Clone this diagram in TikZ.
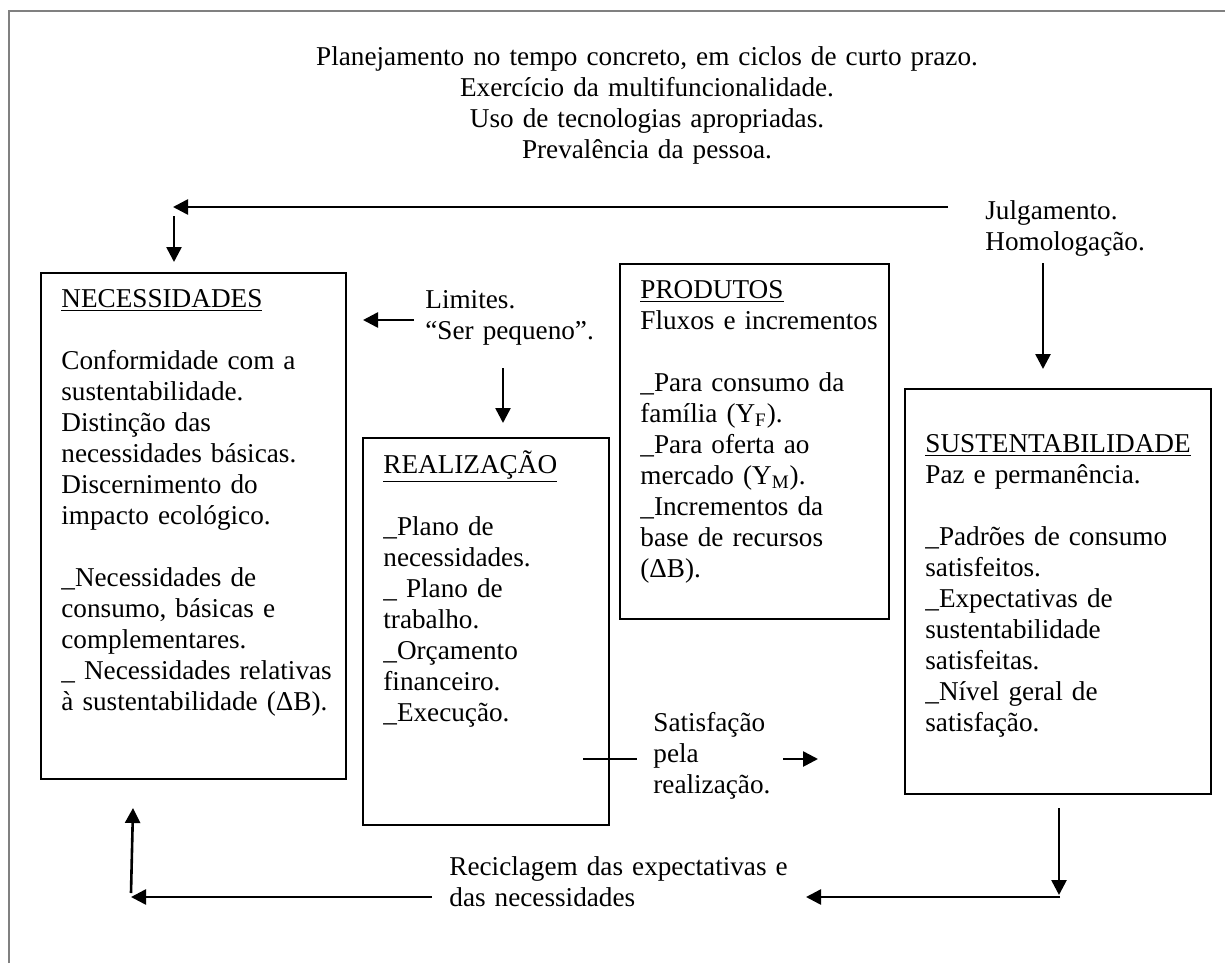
\documentclass[tikz,border=0pt]{standalone}
\usepackage{fontspec}
\setmainfont{Liberation Serif}
\usepackage{tikz}
\usetikzlibrary{arrows.meta}

\begin{document}
\begin{tikzpicture}[x=0.5pt,y=-0.5pt,
   font=\fontsize{13.6}{15.5}\selectfont,
   box/.style={draw,line width=1pt,anchor=north west,inner sep=0pt},
   txt/.style={anchor=base west,inner sep=0pt,align=left,text width=200pt}]

\tikzstyle {arr} = [-{Triangle[length=7.5pt,width=7.5pt]}, line width=1.3pt];

\useasboundingbox (0,0) rectangle (1225,963);
\draw[gray,line width=0.8pt] (9,963) -- (9,11) -- (1225,11);

\node[anchor=base,align=center,text width=400pt,inner sep=0pt] (topo) at (647,66)
  {Planejamento no tempo concreto, em ciclos de curto prazo.\\
   Exercício da multifuncionalidade.\\
   Uso de tecnologias apropriadas.\\
   Prevalência da pessoa.};

\node[box,minimum width=152.5pt,minimum height=253pt] (nec) at (40,272) {};
\node[box,minimum width=123pt,minimum height=193.5pt] (real) at (362,437) {};
\node[box,minimum width=134.5pt,minimum height=177.5pt] (prod) at (619,263) {};
\node[box,minimum width=153pt,minimum height=202.5pt] (sust) at (904,388) {};

\node[txt] (nect) at (61,307) {\underline{NECESSIDADES}\\[\baselineskip]
  Conformidade com a\\ sustentabilidade.\\ Distinção das\\
  necessidades básicas.\\ Discernimento do\\ impacto ecológico.\\[\baselineskip]
  \_Necessidades de\\ consumo, básicas e\\ complementares.\\
  \_ Necessidades relativas\\ à sustentabilidade (ΔB).};
\node[txt] (realt) at (383,473) {\underline{REALIZAÇÃO}\\[\baselineskip]
  \_Plano de\\ necessidades.\\ \_ Plano de\\ trabalho.\\
  \_Orçamento\\ financeiro.\\ \_Execução.};
\node[txt] (prodt) at (640,298) {\underline{PRODUTOS}\\ Fluxos e incrementos\\[\baselineskip]
  \_Para consumo da\\ família (Y\textsubscript{F}).\\ \_Para oferta ao\\
  mercado (Y\textsubscript{M}).\\ \_Incrementos da\\ base de recursos\\ (ΔB).};
\node[txt] (sustt) at (925,452) {\underline{SUSTENTABILIDADE}\\ Paz e permanência.\\[\baselineskip]
  \_Padrões de consumo\\ satisfeitos.\\ \_Expectativas de\\ sustentabilidade\\
  satisfeitas.\\ \_Nível geral de\\ satisfação.};

\node[txt] (julg) at (985,219) {Julgamento.\\ Homologação.};
\node[txt] (lim) at (425,308) {Limites.\\ “Ser pequeno”.};
\node[txt] (satis) at (653,731) {Satisfação\\ pela\\ realização.};
\node[txt] (recic) at (449,875) {Reciclagem das expectativas e\\ das necessidades};

\coordinate (j1) at (948,207);
\coordinate (j2) at (173,207);
\coordinate (n1) at (174,216);
\coordinate (n2) at (174,262);
\coordinate (h1) at (1043,263);
\coordinate (h2) at (1043,369);
\coordinate (l1) at (414,320);
\coordinate (l2) at (363,320);
\coordinate (l3) at (503,368);
\coordinate (l4) at (503,423);
\coordinate (s1) at (583,759);
\coordinate (s2) at (637,759);
\coordinate (s3) at (783,759);
\coordinate (s4) at (818,759);
\coordinate (r1) at (1059,808);
\coordinate (r2) at (1059,895);
\coordinate (r3) at (1060,897);
\coordinate (r4) at (806,897);
\coordinate (r5) at (432,897);
\coordinate (r6) at (131,897);
\coordinate (u1) at (131,893);
\coordinate (u2) at (133,808);

\draw[arr] (j1) -- (j2);
\draw[arr] (n1) -- (n2);
\draw[arr] (h1) -- (h2);
\draw[arr] (l1) -- (l2);
\draw[arr] (l3) -- (l4);
\draw[line width=1.3pt] (s1) -- (s2);
\draw[arr] (s3) -- (s4);
\draw[arr] (r1) -- (r2);
\draw[arr] (r3) -- (r4);
\draw[arr] (r5) -- (r6);
\draw[arr] (u1) -- (u2);

\end{tikzpicture}
\end{document}
